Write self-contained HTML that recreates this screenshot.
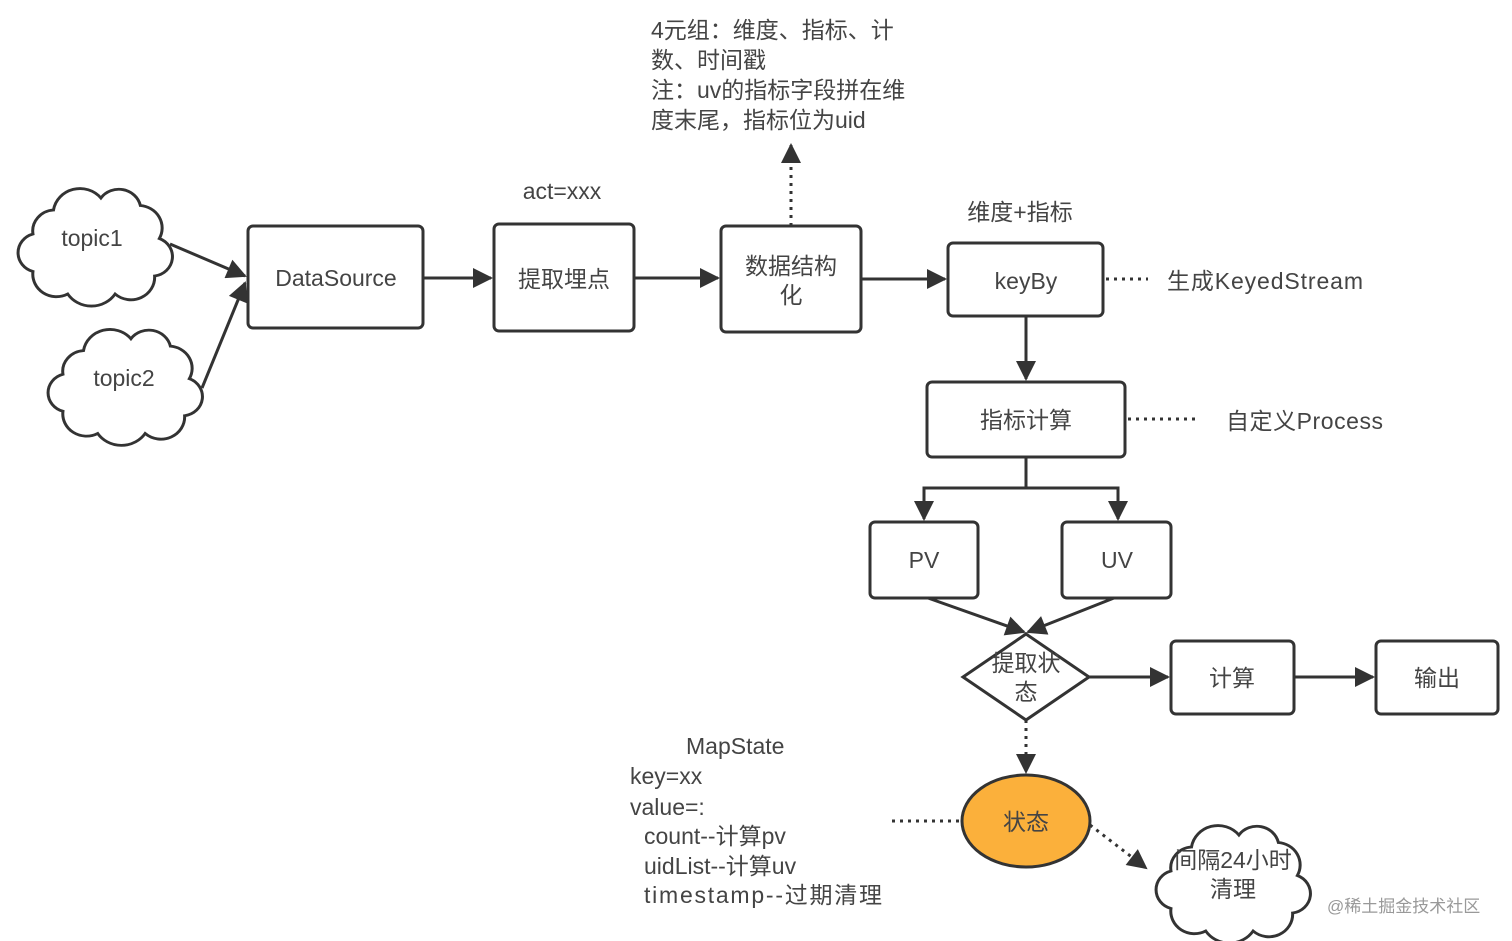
<!DOCTYPE html>
<html><head><meta charset="utf-8"><style>
html,body{margin:0;padding:0;background:#fff;}
svg{display:block;}
text{font-family:"Liberation Sans","Noto Sans CJK SC",sans-serif;fill:#444;font-size:23px;}
</style></head><body>
<svg width="1512" height="941" viewBox="0 0 1512 941" xmlns="http://www.w3.org/2000/svg">
<defs>
<marker id="b" viewBox="0 0 10 10" refX="9" refY="5" markerWidth="22" markerHeight="20" markerUnits="userSpaceOnUse" orient="auto"><path d="M0,0 L10,5 L0,10 z" fill="#333"/></marker>
<path id="cloud" d="M25,20 a17,17 0 0 1 30,-8 a14,14 0 0 1 25,5 a15,15 0 0 1 12,22 a13,13 0 0 1 -3,25 a15,15 0 0 1 -25,12 a18,18 0 0 1 -30,0 a15,15 0 0 1 -22,-15 a13,13 0 0 1 0,-25 a14,14 0 0 1 13,-16 z"/>
</defs>
<g fill="#fff" stroke="#333" stroke-width="3">
<use href="#cloud" transform="translate(14,180) scale(1.58,1.5)" style="stroke-width:1.9"/>
<use href="#cloud" transform="translate(44,321) scale(1.58,1.48)" style="stroke-width:1.9"/>
<use href="#cloud" transform="translate(1152,817) scale(1.58,1.5)" style="stroke-width:1.9"/>
<rect x="248" y="226" width="175" height="102" rx="5"/>
<rect x="494" y="224" width="140" height="107" rx="5"/>
<rect x="721" y="226" width="140" height="106" rx="5"/>
<rect x="948" y="243" width="155" height="73" rx="5"/>
<rect x="927" y="382" width="198" height="75" rx="5"/>
<rect x="870" y="522" width="108" height="76" rx="5"/>
<rect x="1062" y="522" width="109" height="76" rx="5"/>
<rect x="1171" y="641" width="123" height="73" rx="5"/>
<rect x="1376" y="641" width="122" height="73" rx="5"/>
<path d="M1026,634 L1089,677 L1026,720 L963,677 z"/>
<ellipse cx="1026" cy="821" rx="64" ry="46" fill="#fbb03b"/>
</g>
<g stroke="#333" stroke-width="3" fill="none">
<line x1="170" y1="244" x2="245" y2="276" marker-end="url(#b)"/>
<line x1="202" y1="388" x2="245" y2="283" marker-end="url(#b)"/>
<line x1="423" y1="278" x2="491" y2="278" marker-end="url(#b)"/>
<line x1="634" y1="278" x2="718" y2="278" marker-end="url(#b)"/>
<line x1="861" y1="279" x2="945" y2="279" marker-end="url(#b)"/>
<line x1="1026" y1="316" x2="1026" y2="379" marker-end="url(#b)"/>
<path d="M1026,457 V488 H924 V519" marker-end="url(#b)"/>
<path d="M1026,488 H1118 V519" marker-end="url(#b)"/>
<line x1="928" y1="598" x2="1024" y2="632" marker-end="url(#b)"/>
<line x1="1114" y1="598" x2="1028" y2="632" marker-end="url(#b)"/>
<line x1="1089" y1="677" x2="1168" y2="677" marker-end="url(#b)"/>
<line x1="1294" y1="677" x2="1373" y2="677" marker-end="url(#b)"/>
</g>
<g stroke="#333" stroke-width="3" fill="none" stroke-dasharray="3,5">
<line x1="791" y1="226" x2="791" y2="145" marker-end="url(#b)"/>
<line x1="1106" y1="279" x2="1148" y2="279"/>
<line x1="1128" y1="419" x2="1195" y2="419"/>
<line x1="1026" y1="720" x2="1026" y2="772" marker-end="url(#b)"/>
<line x1="892" y1="821" x2="960" y2="821"/>
<line x1="1090" y1="825" x2="1146" y2="868" marker-end="url(#b)"/>
</g>
<g text-anchor="middle">
<text x="92" y="246">topic1</text>
<text x="124" y="386">topic2</text>
<text x="336" y="286">DataSource</text>
<text x="564" y="287">提取埋点</text>
<text x="791" y="274">数据结构</text>
<text x="791" y="303">化</text>
<text x="1026" y="289">keyBy</text>
<text x="1026" y="428">指标计算</text>
<text x="924" y="568">PV</text>
<text x="1117" y="568">UV</text>
<text x="1026" y="671">提取状</text>
<text x="1026" y="700">态</text>
<text x="1232" y="686">计算</text>
<text x="1437" y="686">输出</text>
<text x="1026" y="830">状态</text>
<text x="1233" y="868">间隔24小时</text>
<text x="1233" y="897">清理</text>
<text x="562" y="199">act=xxx</text>
<text x="1020" y="220">维度+指标</text>
</g>
<text x="1167" y="289" textLength="196">生成KeyedStream</text>
<text x="1226" y="429" textLength="157">自定义Process</text>
<text x="651" y="38">4元组：维度、指标、计</text>
<text x="651" y="68">数、时间戳</text>
<text x="651" y="98">注：uv的指标字段拼在维</text>
<text x="651" y="128">度末尾，指标位为uid</text>
<text x="686" y="754">MapState</text>
<text x="630" y="784">key=xx</text>
<text x="630" y="815">value=:</text>
<text x="644" y="844">count--计算pv</text>
<text x="644" y="874">uidList--计算uv</text>
<text x="644" y="903" textLength="238">timestamp--过期清理</text>
<text x="1327" y="912" style="font-size:17px;fill:#999">@稀土掘金技术社区</text>
</svg>
</body></html>
